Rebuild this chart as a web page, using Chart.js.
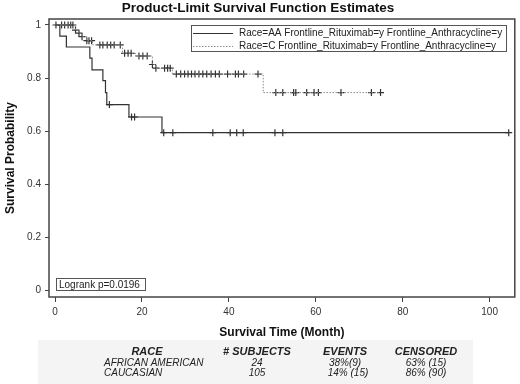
<!DOCTYPE html>
<html>
<head>
<meta charset="utf-8">
<script src="https://cdn.jsdelivr.net/npm/chart.js@4"></script>
<style>
  html, body { margin: 0; padding: 0; background: #fff; }
  canvas { display: block; }
</style>
</head>
<body>
<canvas id="kmChart" width="520" height="384"></canvas>
<script>
// step points (time in months, survival probability)
const aaTimes = [0, 1.1, 2.6, 8.0, 8.5, 11.0, 11.6, 11.9, 17.0, 24.6, 104.4];
const aaSurv  = [1, 0.958, 0.917, 0.875, 0.831, 0.79, 0.745, 0.70, 0.653, 0.594, 0.594];
const aaCensored = [12.5, 17.6, 18.3, 25.0, 27.1, 36.3, 40.3, 41.8, 43.3, 50.6, 52.4, 104.4];

const cTimes = [0, 4.7, 5.5, 6.2, 7.3, 8.6, 15.5, 18.5, 22.4, 23.2, 27.0, 47.9, 74.9];
const cSurv  = [1, 0.981, 0.969, 0.956, 0.941, 0.925, 0.893, 0.883, 0.851, 0.837, 0.815, 0.745, 0.745];
const cCensored = [0.2, 1.5, 2.2, 3.0, 3.6, 4.1, 4.7, 5.5, 6.2, 7.3, 7.8, 8.4, 10.3, 11.0, 12.0,
  12.8, 13.6, 15.0, 16.0, 16.8, 17.5, 19.3, 20.2, 21.2, 22.4, 23.2, 25.2, 25.9, 26.5, 27.9, 28.9,
  29.8, 30.6, 31.4, 32.2, 33.1, 34.0, 34.9, 35.9, 36.9, 37.8, 39.7, 41.5, 42.2, 43.4, 46.7, 50.8,
  52.4, 54.9, 55.4, 57.9, 59.6, 60.6, 65.8, 72.8, 74.9];

const groupLabels = [
  "Race=AA Frontline_Rituximab=y Frontline_Anthracycline=y",
  "Race=C Frontline_Rituximab=y Frontline_Anthracycline=y"
];
const xTicks = [0, 20, 40, 60, 80, 100];
const yTicks = [0, 0.2, 0.4, 0.6, 0.8, 1];
const logrankText = "Logrank p=0.0196";

// summary table under the plot
const tableHeader = ["RACE", "# SUBJECTS", "EVENTS", "CENSORED"];
const tableRace = ["AFRICAN AMERICAN", "CAUCASIAN"];
const tableSubjects = ["24", "105"];
const tableEvents = ["38%(9)", "14% (15)"];
const tableCensored = ["63% (15)", "86% (90)"];

const FONT = "'Liberation Sans', Arial, Helvetica, sans-serif";

function survAt(times, surv, t) {
  let s = surv[0];
  for (let i = 0; i < times.length; i++) {
    if (times[i] <= t) s = surv[i];
  }
  return s;
}

const toPoints = (xs, ys) => xs.map((x, i) => ({ x: x, y: ys[i] }));
const censorPoints = (ts, times, surv) => ts.map(t => ({ x: t, y: survAt(times, surv, t) }));

const extras = {
  id: "kmExtras",
  beforeDraw(chart) {
    const c = chart.ctx;
    c.save();
    c.fillStyle = "#f4f4f4";
    c.fillRect(38, 340, 435, 44);
    c.restore();
  },
  afterDraw(chart) {
    const c = chart.ctx;
    const a = chart.chartArea;
    c.save();
    // plot frame
    c.strokeStyle = "#444";
    c.lineWidth = 1.5;
    c.strokeRect(a.left, a.top, a.right - a.left, a.bottom - a.top);

    // legend inside plot
    c.fillStyle = "#fff";
    c.fillRect(191, 25, 316, 27);
    c.strokeStyle = "#555";
    c.lineWidth = 1;
    c.strokeRect(191.5, 25.5, 315, 26);
    const ds = chart.data.datasets;
    [33.5, 46.5].forEach((y, i) => {
      c.beginPath();
      c.strokeStyle = ds[i].borderColor;
      c.lineWidth = ds[i].borderWidth;
      c.setLineDash(ds[i].borderDash || []);
      c.moveTo(193, y);
      c.lineTo(233, y);
      c.stroke();
      c.setLineDash([]);
      c.fillStyle = "#222";
      c.font = "10px " + FONT;
      c.textBaseline = "middle";
      c.textAlign = "left";
      c.fillText(ds[i].label, 239, y);
    });

    // logrank box
    c.fillStyle = "#fff";
    c.fillRect(56, 278, 90, 13);
    c.strokeStyle = "#555";
    c.strokeRect(56.5, 278.5, 89, 12);
    c.fillStyle = "#222";
    c.font = "10px " + FONT;
    c.fillText(logrankText, 59, 285);

    // table
    const cols = [147, 257, 345, 426];
    c.textAlign = "center";
    c.font = "italic bold 11px " + FONT;
    tableHeader.forEach((h, i) => c.fillText(h, cols[i], 351.5));
    c.font = "italic 10px " + FONT;
    [363, 373.5].forEach((y, r) => {
      c.textAlign = "left";
      c.fillText(tableRace[r], 104, y);
      c.textAlign = "center";
      c.fillText(tableSubjects[r], cols[1], y);
      c.fillText(tableEvents[r], cols[2] + (r ? 3 : 0), y);
      c.fillText(tableCensored[r], cols[3], y);
    });
    c.restore();
  }
};

new Chart(document.getElementById("kmChart"), {
  type: "line",
  data: {
    datasets: [
      {
        label: groupLabels[0],
        data: toPoints(aaTimes, aaSurv),
        stepped: true,
        borderColor: "#333",
        borderWidth: 1.2,
        pointRadius: 0,
        fill: false
      },
      {
        label: groupLabels[1],
        data: toPoints(cTimes, cSurv),
        stepped: true,
        borderColor: "#8a8a8a",
        borderWidth: 1,
        borderDash: [1.5, 1.5],
        pointRadius: 0,
        fill: false
      },
      {
        label: "AA censored",
        data: censorPoints(aaCensored, aaTimes, aaSurv),
        showLine: false,
        pointStyle: "cross",
        pointRadius: 3.5,
        borderColor: "#333",
        borderWidth: 1.2
      },
      {
        label: "C censored",
        data: censorPoints(cCensored, cTimes, cSurv),
        showLine: false,
        pointStyle: "cross",
        pointRadius: 3.5,
        borderColor: "#333",
        borderWidth: 1.2
      }
    ]
  },
  options: {
    responsive: false,
    animation: false,
    layout: { padding: { left: 0, right: 4, top: 0, bottom: 0 } },
    plugins: {
      legend: { display: false },
      tooltip: { enabled: false },
      title: {
        display: true,
        text: "Product-Limit Survival Function Estimates",
        color: "#111",
        font: { family: FONT, size: 13.5, weight: "bold" },
        padding: { top: 0, bottom: 2.8 }
      }
    },
    scales: {
      x: {
        type: "linear",
        min: -1.4,
        max: 105.8,
        afterBuildTicks: s => { s.ticks = xTicks.map(v => ({ value: v })); },
        afterFit: s => { s.height = 87; },
        grid: { drawOnChartArea: false, drawTicks: true, tickLength: 5, color: "#444" },
        border: { display: false },
        ticks: { color: "#333", font: { family: FONT, size: 10 }, padding: 4, maxRotation: 0 },
        title: {
          display: true,
          text: "Survival Time (Month)",
          color: "#111",
          font: { family: FONT, size: 12, weight: "bold" },
          padding: { top: 0, bottom: 43.8 }
        }
      },
      y: {
        min: -0.026,
        max: 1.0226,
        afterBuildTicks: s => { s.ticks = yTicks.map(v => ({ value: v })); },
        afterFit: s => { s.width = 49; },
        grid: { drawOnChartArea: false, drawTicks: true, tickLength: 4, color: "#444" },
        border: { display: false },
        ticks: {
          color: "#333",
          font: { family: FONT, size: 10 },
          padding: 4,
          callback: v => String(v)
        },
        title: {
          display: true,
          text: "Survival Probability",
          color: "#111",
          font: { family: FONT, size: 12, weight: "bold" },
          padding: { top: 3, bottom: 0 }
        }
      }
    }
  },
  plugins: [extras]
});
</script>
</body>
</html>
